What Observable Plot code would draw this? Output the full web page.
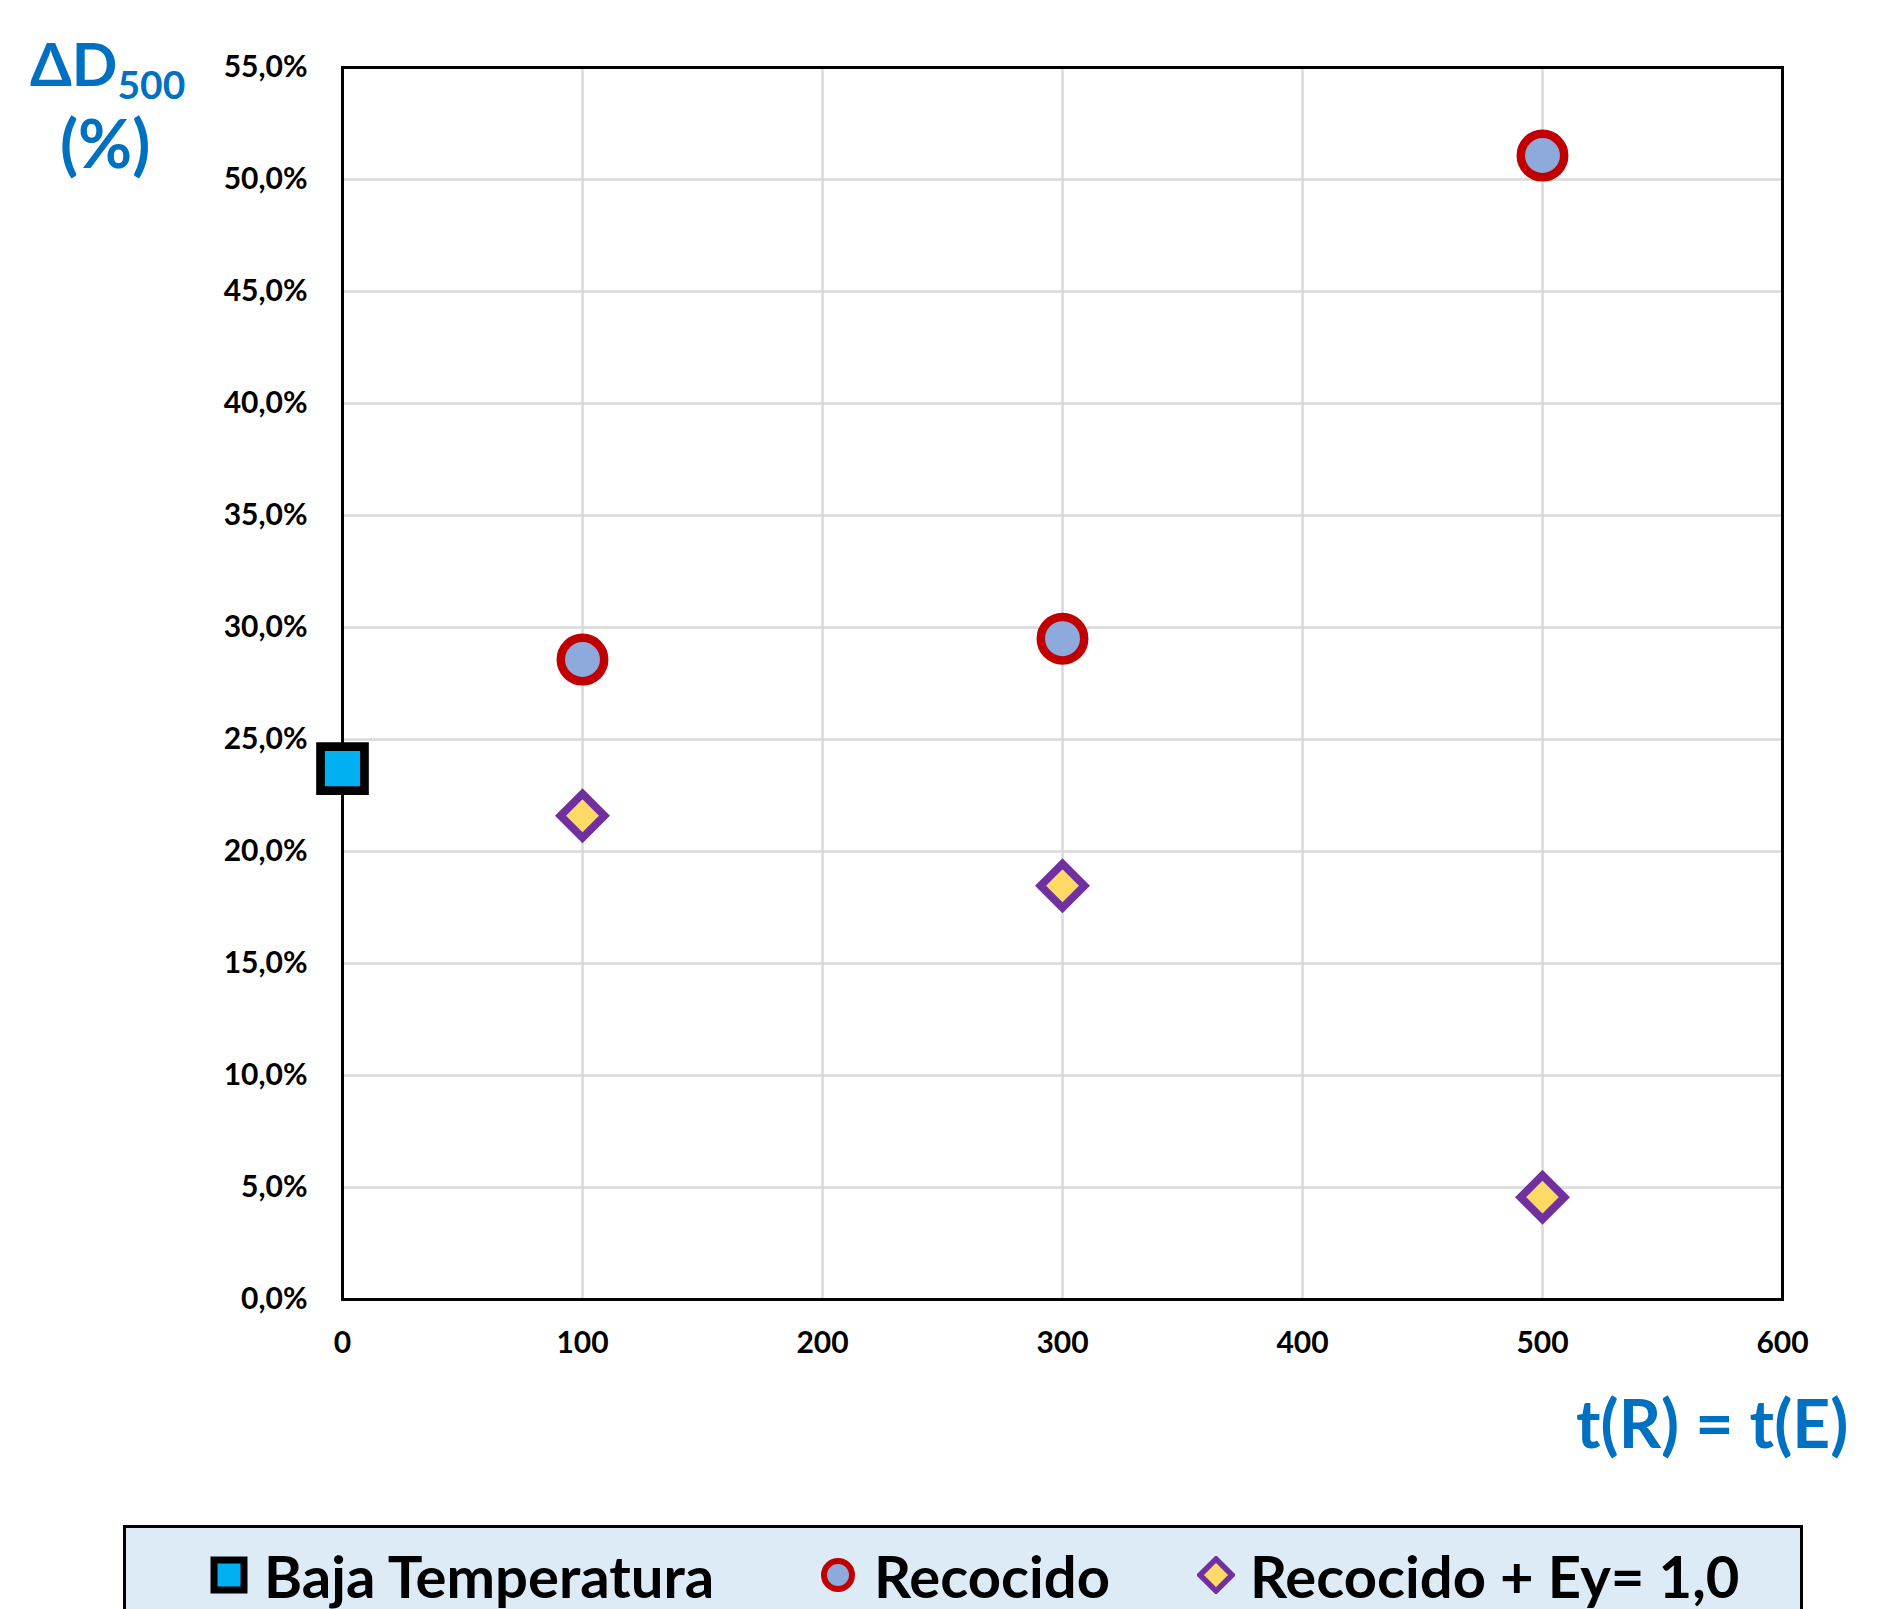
<!DOCTYPE html>
<html>
<head>
<meta charset="utf-8">
<script src="https://cdn.jsdelivr.net/npm/d3@7"></script>
<script src="https://cdn.jsdelivr.net/npm/@observablehq/plot@0.6"></script>
<style>
  html, body { margin: 0; padding: 0; background: #fff; }
  #wrap { position: relative; width: 1899px; height: 1609px; overflow: hidden; font-family: Lato, "Open Sans", "Liberation Sans", sans-serif; }
  #chart { position: absolute; left: 0; top: 0; }
  .blue { position: absolute; color: #0070C0; font-weight: bold; white-space: nowrap; line-height: 1; }
  #legend { position: absolute; left: 123px; top: 1525px; width: 1680px; height: 120px; background: #DDEBF7; border: 3px solid #000; box-sizing: border-box; }
  .li { position: absolute; top: 0; height: 94px; display: flex; align-items: center; font-size: 58px; font-weight: bold; color: #000; white-space: nowrap; }
</style>
</head>
<body>
<div id="wrap">
  <div id="chart"></div>
  <div class="blue" style="left:30px; top:33px; font-size:60px;">ΔD<span style="font-size:39px; position:relative; top:13px;">500</span></div>
  <div class="blue" style="left:60px; top:110px; font-size:66px;">(%)</div>
  <div class="blue" style="left:1576px; top:1390px; font-size:66px;">t(R) = t(E)</div>
  <div id="legend"></div>
</div>
<script>
// Series data (x = t(R) = t(E), y = ΔD500 as fraction)
const bajaX = [0];
const bajaY = [0.237];
const recocidoX = [100, 300, 500];
const recocidoY = [0.2857, 0.295, 0.5107];
const recEyX = [100, 300, 500];
const recEyY = [0.216, 0.1847, 0.0457];
const xTicks = [0, 100, 200, 300, 400, 500, 600];
const yTicks = [0, 0.05, 0.10, 0.15, 0.20, 0.25, 0.30, 0.35, 0.40, 0.45, 0.50, 0.55];
const seriesNames = ["Baja Temperatura", "Recocido", "Recocido + Ey= 1,0"];

const baja = bajaX.map((x, i) => ({x, y: bajaY[i]}));
const recocido = recocidoX.map((x, i) => ({x, y: recocidoY[i]}));
const recEy = recEyX.map((x, i) => ({x, y: recEyY[i]}));

const fmtPct = d => (d * 100).toFixed(1).replace(".", ",") + "%";

const chart = Plot.plot({
  width: 1899,
  height: 1400,
  marginLeft: 342,
  marginRight: 117,
  marginTop: 67,
  marginBottom: 101,
  style: { fontFamily: "Lato, 'Open Sans', 'Liberation Sans', sans-serif", background: "transparent" },
  x: { domain: [0, 600] },
  y: { domain: [0, 0.55] },
  marks: [
    Plot.gridX(xTicks, { stroke: "#D9D9D9", strokeOpacity: 1, strokeWidth: 2.5 }),
    Plot.gridY(yTicks, { stroke: "#D9D9D9", strokeOpacity: 1, strokeWidth: 2.5 }),
    Plot.axisX(xTicks, { tickSize: 0, tickPadding: 32, fontSize: 30, fontWeight: "bold", label: null, tickFormat: d => String(d) }),
    Plot.axisY(yTicks, { tickSize: 0, tickPadding: 35, fontSize: 30, fontWeight: "bold", label: null, tickFormat: fmtPct }),
    Plot.frame({ stroke: "#000", strokeWidth: 3 }),
    Plot.dot(recocido, { x: "x", y: "y", symbol: "circle", r: 21.7, fill: "#8EA9DB", stroke: "#C00000", strokeWidth: 8.5 }),
    Plot.dot(recEy, { x: "x", y: "y", symbol: "diamond2", r: 19.8, fill: "#FFD966", stroke: "#7030A0", strokeWidth: 7.8 }),
    Plot.dot(baja, { x: "x", y: "y", symbol: "square", r: 24.8, fill: "#00B0F0", stroke: "#000", strokeWidth: 8.7 })
  ]
});
document.getElementById("chart").appendChild(chart);

// Legend
const legend = document.getElementById("legend");
const items = [
  { name: seriesNames[0], mx: 229, tx: 264, svg: '<rect x="4" y="4" width="30" height="30" fill="#00B0F0" stroke="#000" stroke-width="7"/>' },
  { name: seriesNames[1], mx: 838, tx: 874, svg: '<circle cx="19" cy="19" r="14" fill="#8EA9DB" stroke="#C00000" stroke-width="6"/>' },
  { name: seriesNames[2], mx: 1216, tx: 1250, svg: '<path d="M19,3 L35,19 L19,35 L3,19 Z" fill="#FFD966" stroke="#7030A0" stroke-width="5.5"/>' }
];
for (const it of items) {
  const m = document.createElement("div");
  m.className = "li";
  m.style.left = (it.mx - 123 - 3 - 19) + "px";
  m.innerHTML = '<svg width="38" height="38">' + it.svg + '</svg>';
  legend.appendChild(m);
  const t = document.createElement("div");
  t.className = "li";
  t.style.left = (it.tx - 123 - 3) + "px";
  t.textContent = it.name;
  legend.appendChild(t);
}
</script>
</body>
</html>
